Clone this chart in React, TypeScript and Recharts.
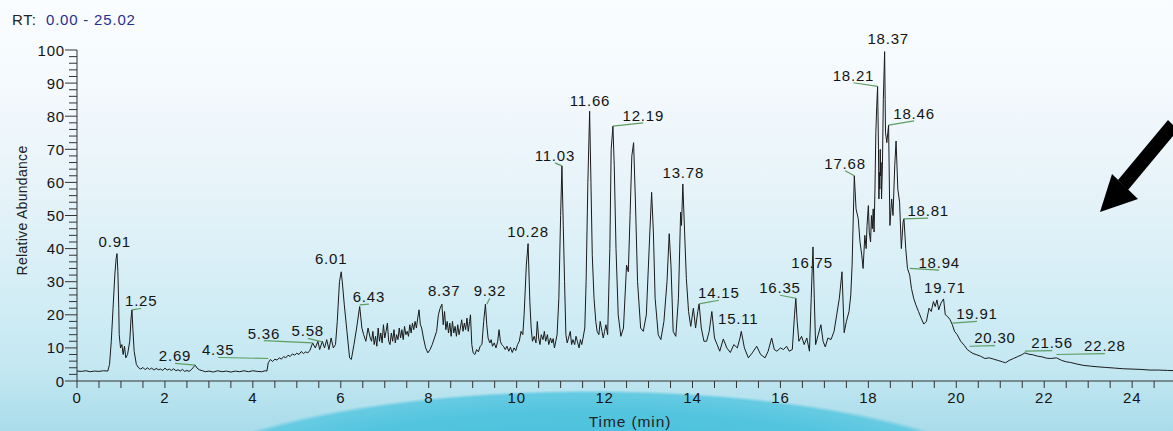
import React from 'react';
import { ComposedChart, Line, XAxis, YAxis, ReferenceDot, ReferenceLine, Label } from 'recharts';

// ---- chromatogram trace: [time (min), relative abundance (%)] ----
const traceEarly: [number, number][] = [
  [0, 3.0], [0.1, 2.9], [0.2, 3.1], [0.3, 2.8], [0.4, 3.0], [0.5, 2.9], [0.6, 3.1], [0.7, 3.0],
  [0.74, 5], [0.78, 12], [0.82, 22], [0.86, 32], [0.89, 37], [0.91, 38.5], [0.93, 33], [0.95, 22],
  [0.96, 14], [0.99, 10], [1.02, 11], [1.05, 8], [1.08, 10.5], [1.11, 7], [1.15, 8], [1.2, 12],
  [1.23, 19], [1.25, 21.5], [1.27, 16], [1.3, 9], [1.35, 5], [1.4, 4], [1.45, 3.6], [1.5, 4.1],
  [1.55, 3.4], [1.6, 4.0], [1.65, 3.5], [1.7, 3.9], [1.75, 3.3], [1.8, 3.8], [1.85, 3.4], [1.9, 3.6],
  [1.95, 3.2], [2.0, 3.9], [2.05, 3.3], [2.1, 3.6], [2.15, 3.2], [2.2, 3.7], [2.25, 3.1], [2.3, 3.4],
  [2.35, 3.0], [2.4, 3.5], [2.45, 2.9], [2.5, 3.2], [2.55, 2.9], [2.6, 3.4], [2.65, 4.2], [2.69, 4.8],
  [2.73, 3.9], [2.78, 3.4], [2.85, 3.1], [2.92, 2.8], [3.0, 3.0], [3.1, 2.7], [3.2, 3.1], [3.3, 2.8],
  [3.4, 3.0], [3.5, 2.7], [3.6, 3.0], [3.7, 2.8], [3.8, 3.1], [3.9, 2.8], [4.0, 3.1], [4.1, 2.9],
  [4.2, 2.8], [4.28, 3.1], [4.32, 3.0], [4.35, 5.5], [4.4, 6.5], [4.45, 5.9], [4.5, 6.6], [4.55, 6.3],
  [4.6, 7.0], [4.65, 6.6], [4.7, 7.4], [4.75, 7.0], [4.8, 7.8], [4.85, 7.4], [4.9, 8.2], [4.95, 7.8],
  [5.0, 8.4], [5.05, 8.0], [5.1, 8.9], [5.15, 8.3], [5.2, 8.8], [5.25, 8.5], [5.3, 9.3],
  [5.36, 11.5], [5.42, 10], [5.48, 12], [5.52, 9.5], [5.58, 12], [5.63, 10], [5.68, 12.5], [5.73, 9.5],
  [5.78, 13], [5.83, 10], [5.88, 11], [5.92, 18], [5.97, 30], [6.01, 33], [6.04, 29], [6.08, 23],
  [6.14, 15], [6.2, 7], [6.24, 6.5], [6.3, 11], [6.36, 16], [6.43, 22.5], [6.48, 16], [6.52, 14],
  [6.57, 12], [6.62, 16], [6.67, 13],
];

const traceMiddle: [number, number][] = [
  [6.7, 12], [6.73, 15], [6.76, 11], [6.79, 13.5], [6.82, 10.5], [6.85, 16], [6.88, 12], [6.91, 14.5],
  [6.94, 11.5], [6.97, 17], [7.0, 13], [7.03, 15], [7.06, 17.5], [7.09, 12], [7.12, 11], [7.15, 14.5],
  [7.18, 12], [7.21, 15.5], [7.24, 11.5], [7.27, 14], [7.3, 12.5], [7.33, 16], [7.36, 13], [7.39, 15.5],
  [7.42, 12.5], [7.45, 16.5], [7.48, 14], [7.51, 15], [7.54, 13.5], [7.57, 17], [7.6, 14.5], [7.63, 17.5],
  [7.66, 15.5], [7.69, 18], [7.72, 16], [7.75, 19], [7.78, 21.5], [7.81, 17], [7.84, 16], [7.88, 13],
  [7.93, 10], [7.98, 8.5], [8.03, 9.5], [8.08, 11], [8.13, 13], [8.18, 15], [8.22, 20], [8.26, 22],
  [8.3, 23.2], [8.33, 17], [8.36, 21], [8.39, 15.5], [8.42, 18], [8.45, 14.5], [8.48, 17.5], [8.51, 13.5],
  [8.54, 18], [8.57, 14.5], [8.6, 16.5], [8.63, 13.5], [8.66, 17], [8.69, 14], [8.72, 16], [8.75, 18.5],
  [8.78, 15], [8.81, 17.5], [8.84, 15.5], [8.87, 19], [8.9, 15], [8.93, 18], [8.95, 20], [8.98, 11],
  [9.01, 8.5], [9.05, 8], [9.09, 9.5], [9.13, 8.8], [9.17, 10.5], [9.21, 11], [9.25, 18], [9.29, 23.2],
  [9.32, 17], [9.35, 13], [9.39, 11.5], [9.42, 12.5], [9.45, 10.5], [9.49, 11.5], [9.53, 10], [9.57, 12],
  [9.6, 15.5], [9.63, 12], [9.66, 11], [9.7, 10.5], [9.74, 9.5], [9.78, 10.5], [9.82, 9], [9.86, 10.2],
  [9.9, 8.6], [9.94, 10], [9.98, 9.2], [10.02, 11], [10.06, 12], [10.1, 15], [10.14, 14], [10.17, 20],
  [10.22, 35], [10.26, 41.5], [10.3, 24], [10.33, 16], [10.36, 12], [10.4, 13.5], [10.44, 11.5], [10.47, 18],
  [10.5, 13], [10.53, 11], [10.56, 14], [10.6, 12.5], [10.63, 15], [10.66, 12], [10.7, 14], [10.73, 11],
  [10.77, 13], [10.8, 11.5], [10.83, 12.8], [10.86, 10], [10.89, 12], [10.92, 14], [10.96, 25], [11.0, 50],
  [11.03, 65], [11.06, 47], [11.09, 30], [11.12, 14], [11.15, 11.5], [11.18, 13], [11.22, 15], [11.25, 11],
  [11.28, 12.5], [11.32, 11], [11.35, 13.5], [11.38, 12], [11.42, 10], [11.45, 12.5], [11.48, 11], [11.51, 13],
  [11.55, 16], [11.58, 30], [11.62, 60], [11.66, 81.5], [11.69, 60], [11.72, 38], [11.76, 25], [11.8, 18],
  [11.83, 15], [11.87, 14], [11.9, 18], [11.94, 15], [11.97, 13], [12.0, 15], [12.03, 17], [12.07, 14],
  [12.12, 40], [12.15, 70], [12.19, 77], [12.22, 65], [12.26, 40], [12.31, 20], [12.37, 13.5], [12.43, 16],
  [12.5, 35], [12.54, 33], [12.58, 50], [12.62, 68], [12.66, 72], [12.7, 55], [12.75, 30], [12.82, 16],
  [12.88, 15], [12.95, 20], [13.02, 42], [13.07, 57], [13.11, 45], [13.15, 25], [13.22, 14], [13.28, 12.5],
  [13.35, 18], [13.42, 30], [13.47, 44.5], [13.51, 35], [13.56, 15], [13.62, 13.5], [13.68, 25], [13.73, 51],
  [13.75, 47], [13.78, 59.5], [13.82, 45], [13.86, 31], [13.91, 21], [13.96, 16.5], [14.02, 22], [14.07, 16],
  [14.12, 21], [14.15, 23.3], [14.2, 16], [14.26, 12], [14.32, 12], [14.38, 15], [14.44, 21], [14.5, 13],
  [14.56, 11],
];

const traceLate: [number, number][] = [
  [14.62, 9], [14.7, 12.7], [14.78, 10], [14.86, 8.6], [14.94, 11], [15.02, 10], [15.08, 13], [15.11, 15],
  [15.18, 10], [15.27, 7], [15.36, 8.5], [15.46, 10.5], [15.55, 8], [15.65, 7], [15.72, 9], [15.8, 13],
  [15.86, 9.5], [15.92, 9], [16.0, 10], [16.07, 9.5], [16.14, 10.5], [16.2, 9], [16.27, 9.5], [16.32, 20],
  [16.35, 25], [16.38, 18], [16.42, 12], [16.48, 13.5], [16.54, 11], [16.6, 13], [16.66, 9], [16.7, 25],
  [16.74, 40.5], [16.77, 25], [16.8, 11], [16.86, 14], [16.92, 17], [16.97, 12], [17.02, 10.3], [17.08, 13],
  [17.15, 12.5], [17.22, 15], [17.28, 20], [17.34, 25], [17.4, 33], [17.45, 14.6], [17.5, 18], [17.56, 21],
  [17.6, 26], [17.63, 35], [17.68, 62], [17.72, 52], [17.77, 49], [17.81, 42], [17.85, 38], [17.88, 34],
  [17.92, 44], [17.95, 40], [17.97, 47], [18.0, 53], [18.02, 45], [18.05, 42], [18.07, 50], [18.09, 46],
  [18.11, 52], [18.13, 45], [18.15, 58], [18.17, 75], [18.19, 83], [18.21, 89], [18.22, 80], [18.23, 70],
  [18.24, 55], [18.25, 63], [18.26, 58], [18.27, 70], [18.28, 62], [18.29, 66], [18.3, 55], [18.32, 65],
  [18.34, 85], [18.37, 99.5], [18.39, 75], [18.42, 72], [18.46, 77.3], [18.49, 47], [18.53, 55], [18.56, 50],
  [18.6, 65], [18.63, 72.5], [18.67, 58], [18.71, 54], [18.75, 40], [18.79, 48], [18.81, 49], [18.85, 40],
  [18.89, 34], [18.94, 32], [18.98, 28], [19.03, 25], [19.08, 23], [19.14, 21], [19.2, 19], [19.26, 17.2],
  [19.32, 18], [19.38, 22], [19.43, 21], [19.48, 24], [19.52, 22.5], [19.56, 24.5], [19.6, 21.5], [19.65, 23.5],
  [19.71, 24.8], [19.75, 20], [19.8, 19.5], [19.86, 18.5], [19.91, 17], [19.96, 15], [20.02, 14], [20.1, 12],
  [20.18, 10.8], [20.25, 9.5], [20.3, 9], [20.38, 8.3], [20.45, 8], [20.55, 7.5], [20.65, 6.8], [20.75, 7],
  [20.85, 6.6], [20.95, 6.2], [21.05, 5.8], [21.12, 5.5], [21.2, 6.2], [21.3, 6.8], [21.4, 7.4], [21.5, 8],
  [21.56, 8.5], [21.65, 8.1], [21.75, 7.9], [21.85, 7.5], [21.95, 7.3], [22.05, 6.9], [22.15, 6.8], [22.28, 7],
  [22.4, 6.2], [22.5, 5.8], [22.6, 5.6], [22.75, 5.1], [22.9, 4.7], [23.05, 4.5], [23.2, 4.3], [23.4, 4.1],
  [23.6, 3.9], [23.8, 3.7], [24.0, 3.6], [24.2, 3.5], [24.4, 3.3], [24.6, 3.3], [24.8, 3.2], [25.0, 3.1],
];

// ---- labelled peaks ----
const peakNames = ['0.91', '1.25', '2.69', '4.35', '5.36', '5.58', '6.01', '6.43', '8.37', '9.32', '10.28', '11.03', '11.66', '12.19', '13.78', '14.15', '15.11', '16.35', '16.75', '17.68', '18.21', '18.37', '18.46', '18.81', '18.94', '19.71', '19.91', '20.30', '21.56', '22.28'];
const peakHeights = [38.5, 21.5, 4.8, 6.8, 11.5, 11.8, 33, 23, 23.2, 23.2, 41.5, 65, 81.5, 77, 59.5, 23.3, 15, 25, 40.5, 62, 89, 99.5, 77.3, 49, 34, 24.8, 17.5, 10.5, 9, 8];
// label anchor (time, abundance) where each name sits
const labelTimes = [0.86, 1.46, 2.23, 3.21, 4.25, 5.25, 5.78, 6.64, 8.35, 9.39, 10.26, 10.87, 11.67, 12.88, 13.79, 14.6, 15.04, 15.99, 16.72, 17.47, 17.66, 18.45, 19.04, 19.36, 19.61, 19.74, 20.47, 20.88, 22.18, 23.38];
const labelHeights = [42.1, 24.2, 7.6, 9.4, 14.5, 15.2, 37, 25.5, 27.3, 27.3, 45.2, 68.2, 84.8, 80.3, 63, 26.7, 18.8, 28.2, 35.8, 65.8, 92.4, 103.6, 80.9, 51.5, 35.8, 28.2, 20.3, 13, 11.5, 10.6];
const hasLeader = [false, true, true, true, true, true, false, true, false, true, false, true, false, true, false, true, false, true, false, true, true, false, true, true, true, false, true, true, true, true];

// ---- axis ticks ----
const xTicks = [0, 0.5, 1, 1.5, 2, 2.5, 3, 3.5, 4, 4.5, 5, 5.5, 6, 6.5, 7, 7.5, 8, 8.5, 9, 9.5, 10, 10.5, 11, 11.5, 12, 12.5, 13, 13.5, 14, 14.5, 15, 15.5, 16, 16.5, 17, 17.5, 18, 18.5, 19, 19.5, 20, 20.5, 21, 21.5, 22, 22.5, 23, 23.5, 24, 24.5, 25];
const xLabelTicks = [0, 2, 4, 6, 8, 10, 12, 14, 16, 18, 20, 22, 24];
const yTicks = [0, 2, 4, 6, 8, 10, 12, 14, 16, 18, 20, 22, 24, 26, 28, 30, 32, 34, 36, 38, 40, 42, 44, 46, 48, 50, 52, 54, 56, 58, 60, 62, 64, 66, 68, 70, 72, 74, 76, 78, 80, 82, 84, 86, 88, 90, 92, 94, 96, 98, 100];
const yLabelTicks = [0, 10, 20, 30, 40, 50, 60, 70, 80, 90, 100];

const trace = [...traceEarly, ...traceMiddle, ...traceLate].map(([t, v]) => ({ t, v }));
const peaks = peakNames.map((name, i) => ({
  name,
  t: parseFloat(name),
  v: peakHeights[i],
  lx: labelTimes[i],
  ly: labelHeights[i],
  lead: hasLeader[i],
}));

const FONT = "'Liberation Sans', Arial, sans-serif";
const INK = '#141414';

const XTick = (props: any) => {
  const { x, y, payload } = props;
  const v = payload.value;
  const major = xLabelTicks.includes(v);
  return (
    <g>
      <line x1={x} y1={y} x2={x} y2={y + 7} stroke="#333" strokeWidth={1} />
      {major && (
        <text x={x} y={y + 22} textAnchor="middle" fontFamily={FONT} fontSize={15} letterSpacing={0.8} fill={INK}>
          {v}
        </text>
      )}
    </g>
  );
};

const YTick = (props: any) => {
  const { x, y, payload } = props;
  const v = payload.value;
  const major = yLabelTicks.includes(v);
  return (
    <g>
      <line x1={x - (major ? 12 : 8)} y1={y} x2={x} y2={y} stroke="#333" strokeWidth={1} />
      {major && (
        <text x={x - 12} y={y + 5.5} textAnchor="end" fontFamily={FONT} fontSize={15} letterSpacing={0.8} fill={INK}>
          {v}
        </text>
      )}
    </g>
  );
};

const bg =
  'radial-gradient(ellipse 440px 112px at 590px 502px, #3fbcd9 0%, #52c4de 80%, #66cbe2 97%, rgba(120,205,228,0) 100%),' +
  'linear-gradient(to bottom, #fafdff 0%, #f3f9fd 22%, #e6f3f9 45%, #d6eef6 65%, #c4e8f2 85%, #a9dcea 100%)';

export default function App() {
  return (
    <div style={{ position: 'absolute', left: 0, top: 0, width: 1173, height: 431, overflow: 'hidden', background: bg }}>
      <ComposedChart width={1180} height={431} data={trace} margin={{ top: 50, right: 3, bottom: 0, left: 0 }}>
        <XAxis
          dataKey="t"
          type="number"
          domain={[0, 25.02]}
          ticks={xTicks}
          interval={0}
          tickLine={false}
          tickSize={0}
          tickMargin={0}
          tick={<XTick />}
          axisLine={{ stroke: '#333' }}
          height={50}
          allowDataOverflow
        >
          <Label
            content={(p: any) => {
              const vb = p.viewBox || {};
              return (
                <text x={vb.x + vb.width / 2 + 3} y={427} textAnchor="middle" fontFamily={FONT} fontSize={15.5} letterSpacing={0.9} fill="#222">
                  Time (min)
                </text>
              );
            }}
          />
        </XAxis>
        <YAxis
          type="number"
          domain={[0, 100]}
          ticks={yTicks}
          interval={0}
          tickLine={false}
          tickSize={0}
          tickMargin={0}
          tick={<YTick />}
          axisLine={{ stroke: '#333' }}
          width={77}
        >
          <Label
            content={(p: any) => {
              const vb = p.viewBox || {};
              const cy = vb.y + vb.height / 2 - 5;
              return (
                <text
                  x={27}
                  y={cy}
                  transform={`rotate(-90 27 ${cy})`}
                  textAnchor="middle"
                  fontFamily={FONT}
                  fontSize={14}
                  letterSpacing={0.3}
                  fill="#222"
                >
                  Relative Abundance
                </text>
              );
            }}
          />
        </YAxis>
        <Line
          type="linear"
          dataKey="v"
          stroke="#1a1a1a"
          strokeWidth={1}
          dot={false}
          activeDot={false}
          isAnimationActive={false}
        />
        {peaks.filter((p) => p.lead).map((p) => (
          <ReferenceLine
            key={'l' + p.name}
            segment={[{ x: p.t, y: p.v }, { x: p.lx, y: p.ly - 2.3 }]}
            stroke="#5c9e62"
            strokeWidth={1.2}
            ifOverflow="visible"
          />
        ))}
        {peaks.map((p) => (
          <ReferenceDot
            key={'d' + p.name}
            x={p.lx}
            y={p.ly}
            r={1}
            fill="none"
            stroke="none"
            ifOverflow="visible"
            label={{
              content: (lp: any) => {
                const vb = lp.viewBox || {};
                const cx = vb.x + (vb.width || 0) / 2;
                const cy = vb.y + (vb.height || 0) / 2;
                return (
                  <text x={cx} y={cy + 5.5} textAnchor="middle" fontFamily={FONT} fontSize={15} letterSpacing={0.8} fill={INK}>
                    {p.name}
                  </text>
                );
              },
            }}
          />
        ))}
      </ComposedChart>
      <svg width={1173} height={431} style={{ position: 'absolute', left: 0, top: 0, pointerEvents: 'none' }}>
        <text x={12} y={24.5} fontFamily={FONT} fontSize={15} letterSpacing={0.8} fill="#222">RT:</text>
        <text x={46} y={24.5} fontFamily={FONT} fontSize={15} letterSpacing={0.8} fill="#27308f">0.00 - 25.02</text>
        <polygon points="1168,120 1178,130 1128,190 1118,180" fill="#000" />
        <polygon points="1100,212 1112,174 1138,199" fill="#000" />
      </svg>
    </div>
  );
}
